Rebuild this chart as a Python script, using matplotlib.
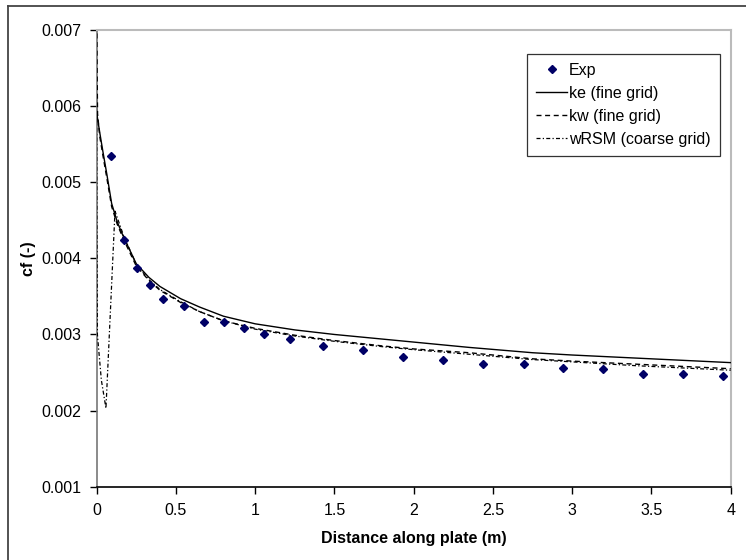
import matplotlib
matplotlib.use("Agg")
import matplotlib.pyplot as plt
from matplotlib.lines import Line2D

plt.rcParams['font.family'] = ['Liberation Sans', 'DejaVu Sans']

# Experimental data
exp_x = [0.089, 0.175, 0.255, 0.339, 0.421, 0.551, 0.676, 0.802, 0.930, 1.054,
         1.218, 1.427, 1.683, 1.931, 2.187, 2.438, 2.695, 2.943, 3.195, 3.449,
         3.698, 3.950]
exp_cf = [0.00535, 0.00424, 0.00387, 0.00365, 0.00346, 0.00337, 0.00317, 0.00317,
          0.00308, 0.00301, 0.00294, 0.00285, 0.00279, 0.00270, 0.00266, 0.00261,
          0.00261, 0.00256, 0.00254, 0.00248, 0.00248, 0.00246]

# ke (fine grid)
ke_x = [0.0, 0.005, 0.02, 0.04, 0.065, 0.095, 0.13, 0.17, 0.25, 0.33, 0.4, 0.53,
        0.65, 0.8, 1.0, 1.25, 1.5, 1.8, 2.0, 2.35, 2.75, 3.0, 3.4, 3.7, 4.0]
ke_cf = [0.00593, 0.00585, 0.00565, 0.00540, 0.00510, 0.00472, 0.00448, 0.00428,
         0.00393, 0.00375, 0.00363, 0.00347, 0.00336, 0.00324, 0.00314, 0.00306,
         0.00300, 0.00294, 0.00290, 0.00283, 0.00276, 0.00273, 0.00269, 0.00266,
         0.00263]

# kw (fine grid)
kw_x = [0.0, 0.003, 0.006, 0.02, 0.04, 0.065, 0.095, 0.13, 0.17, 0.25, 0.33, 0.4,
        0.53, 0.65, 0.8, 1.0, 1.25, 1.5, 1.8, 2.0, 2.35, 2.75, 3.0, 3.4, 3.7, 4.0]
kw_cf = [0.0075, 0.0065, 0.0059, 0.00560, 0.00535, 0.00505, 0.00468, 0.00445,
         0.00425, 0.00390, 0.00371, 0.00358, 0.00342, 0.00330, 0.00318, 0.00308,
         0.00299, 0.00292, 0.00285, 0.00281, 0.00276, 0.00268, 0.00265, 0.00261,
         0.00258, 0.00255]

# wRSM (coarse grid)
rsm_x = [0.0, 0.002, 0.005, 0.03, 0.059, 0.116, 0.17, 0.25, 0.33, 0.4, 0.53, 0.65,
         0.8, 1.0, 1.25, 1.5, 1.8, 2.0, 2.35, 2.75, 3.0, 3.4, 3.7, 4.0]
rsm_cf = [0.0061, 0.0045, 0.0030, 0.0024, 0.00203, 0.00462, 0.00430, 0.00392,
          0.00372, 0.00359, 0.00343, 0.00330, 0.00318, 0.00307, 0.00298, 0.00291,
          0.00284, 0.00280, 0.00274, 0.00267, 0.00264, 0.00259, 0.00256, 0.00253]

x_ticks = [0, 0.5, 1, 1.5, 2, 2.5, 3, 3.5, 4]
x_tick_labels = ['0', '0.5', '1', '1.5', '2', '2.5', '3', '3.5', '4']
y_ticks = [0.001, 0.002, 0.003, 0.004, 0.005, 0.006, 0.007]
y_tick_labels = ['0.001', '0.002', '0.003', '0.004', '0.005', '0.006', '0.007']

FS = 11.5
W, H = 746, 560
fig = plt.figure(figsize=(W / 100, H / 100), dpi=100)
L, R, T, B = 96.6, 730.7, 30.0, 486.7
ax = fig.add_axes([L / W, 1 - B / H, (R - L) / W, (B - T) / H])

ax.plot(ke_x, ke_cf, color='black', lw=1.0, linestyle='-', label='ke (fine grid)',
        zorder=3)
ax.plot(kw_x, kw_cf, color='black', lw=1.0, linestyle=(0, (3.6, 2.6)),
        label='kw (fine grid)', zorder=3)
ax.plot(rsm_x, rsm_cf, color='black', lw=0.9, linestyle=(0, (3.2, 1.8, 1.0, 1.8)),
        label='wRSM (coarse grid)', zorder=3)
ax.plot(exp_x, exp_cf, linestyle='none', marker='D', markersize=4.3,
        color='#000066', markeredgecolor='#000066', label='Exp', zorder=4)

ax.set_xlim(0, 4)
ax.set_ylim(0.001, 0.007)
ax.set_xticks(x_ticks)
ax.set_xticklabels(x_tick_labels)
ax.set_yticks(y_ticks)
ax.set_yticklabels(y_tick_labels)
ax.tick_params(axis='both', direction='out', length=5, width=1, colors='black',
               labelsize=FS)
ax.tick_params(axis='x', pad=7)
ax.tick_params(axis='y', pad=6)

ax.spines['left'].set_color('#777777')
ax.spines['left'].set_linewidth(1.2)
ax.spines['bottom'].set_color('black')
ax.spines['bottom'].set_linewidth(1.2)
ax.spines['top'].set_color('#bbbbbb')
ax.spines['top'].set_linewidth(1.5)
ax.spines['right'].set_color('#bbbbbb')
ax.spines['right'].set_linewidth(1.5)

ax.set_xlabel('Distance along plate (m)', fontsize=FS, fontweight='bold', va='center')
ax.xaxis.set_label_coords(0.5, (B - 538) / (B - T))
ax.set_ylabel('cf (-)', fontsize=FS, fontweight='bold', va='center')
ax.yaxis.set_label_coords((28.3 - L) / (R - L), 0.5)

handles, labels = ax.get_legend_handles_labels()
order = [3, 0, 1, 2]
leg = ax.legend([handles[i] for i in order], [labels[i] for i in order],
                loc='upper left', bbox_to_anchor=(527.3 / W, 1 - 54 / H),
                bbox_transform=fig.transFigure, frameon=True, fancybox=False,
                fontsize=FS, handlelength=1.95, handletextpad=0.12,
                labelspacing=0.5, borderpad=0.55, borderaxespad=0.0)
leg.get_frame().set_edgecolor('black')
leg.get_frame().set_linewidth(0.9)

# outer frame (left and top only visible)
fig.add_artist(Line2D([8 / W, 8 / W], [0, 1 - 5.7 / H], transform=fig.transFigure,
                      color='#444444', lw=1.3))
fig.add_artist(Line2D([8 / W, 1], [1 - 5.7 / H, 1 - 5.7 / H], transform=fig.transFigure,
                      color='#444444', lw=1.3))

fig.savefig('out.png', dpi=100)
